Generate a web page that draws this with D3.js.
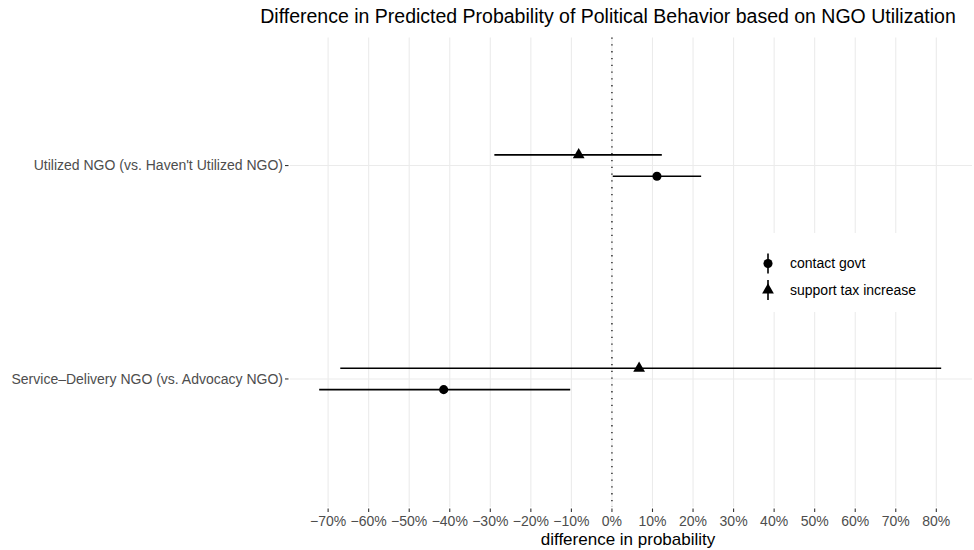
<!DOCTYPE html>
<html>
<head>
<meta charset="utf-8">
<title>Difference in Predicted Probability</title>
<style>
  body { margin: 0; background: #fff; }
  svg text { font-family: "Liberation Sans", Arial, sans-serif; }
  .grid line { stroke: #ebebeb; stroke-width: 1.1px; }
  .tick-label { fill: #4d4d4d; font-size: 14px; }
</style>
</head>
<body>
<div id="chart"></div>
<script src="https://d3js.org/d3.v7.min.js"></script>
<script>
// terms on the y axis, top to bottom
const terms = ["Utilized NGO (vs. Haven't Utilized NGO)", "Service\u2013Delivery NGO (vs. Advocacy NGO)"];
const outcomes = ["contact govt", "support tax increase"];
// estimates and intervals in %, one entry per term
const contactEst = [11.1, -41.5];
const contactLo  = [0.2, -72.2];
const contactHi  = [22.0, -10.3];
const taxEst = [-8.2, 6.7];
const taxLo  = [-29.0, -67.0];
const taxHi  = [12.3, 81.2];
const xTicks = [-70, -60, -50, -40, -30, -20, -10, 0, 10, 20, 30, 40, 50, 60, 70, 80];

const width = 974, height = 550;
const panel = { left: 290, right: 972, top: 37.5, bottom: 507 };

const rows = [];
terms.forEach((t, i) => {
  rows.push({ term: t, outcome: outcomes[0], est: contactEst[i], lo: contactLo[i], hi: contactHi[i] });
  rows.push({ term: t, outcome: outcomes[1], est: taxEst[i], lo: taxLo[i], hi: taxHi[i] });
});

const svg = d3.select("#chart").append("svg")
  .attr("width", width).attr("height", height);

const x = d3.scaleLinear().domain([-79.4, 88.8]).range([panel.left, panel.right]);
// discrete axis with ggplot's 0.6 expansion: positions 1..n
const yPos = d3.scaleLinear().domain([2.6, 0.4]).range([panel.top, panel.bottom]);
const termIndex = t => terms.length - terms.indexOf(t);
// contact govt sits below, support tax increase above
const dodge = d3.scalePoint().domain(outcomes).range([-0.05, 0.05]);

// grid
const grid = svg.append("g").attr("class", "grid");
grid.selectAll(".v").data(xTicks).join("line")
  .attr("x1", d => x(d)).attr("x2", d => x(d))
  .attr("y1", panel.top).attr("y2", panel.bottom);
grid.selectAll(".h").data(terms).join("line")
  .attr("x1", panel.left).attr("x2", panel.right)
  .attr("y1", d => yPos(termIndex(d))).attr("y2", d => yPos(termIndex(d)));

// zero reference
svg.append("line")
  .attr("x1", x(0)).attr("x2", x(0))
  .attr("y1", panel.top).attr("y2", panel.bottom)
  .attr("stroke", "#000").attr("stroke-width", 1.2)
  .attr("stroke-dasharray", "1.3,5.5");

// x axis ticks + labels
const xAxis = svg.append("g");
xAxis.selectAll("line").data(xTicks).join("line")
  .attr("x1", d => x(d)).attr("x2", d => x(d))
  .attr("y1", panel.bottom + 1.5).attr("y2", panel.bottom + 5)
  .attr("stroke", "#333").attr("stroke-width", 1.1);
xAxis.selectAll("text").data(xTicks).join("text")
  .attr("class", "tick-label")
  .attr("x", d => x(d)).attr("y", panel.bottom + 19)
  .attr("text-anchor", "middle")
  .text(d => (d < 0 ? "\u2212" + Math.abs(d) : d) + "%");

// y axis ticks + labels
const yAxis = svg.append("g");
yAxis.selectAll("line").data(terms).join("line")
  .attr("x1", panel.left - 5).attr("x2", panel.left - 1.5)
  .attr("y1", d => yPos(termIndex(d))).attr("y2", d => yPos(termIndex(d)))
  .attr("stroke", "#333").attr("stroke-width", 1.1);
yAxis.selectAll("text").data(terms).join("text")
  .attr("class", "tick-label")
  .attr("x", panel.left - 7).attr("y", d => yPos(termIndex(d)))
  .attr("dy", "0.35em").attr("text-anchor", "end")
  .text(d => d);

// point ranges
const yOf = d => yPos(termIndex(d.term) + dodge(d.outcome));
const marks = svg.append("g");
marks.selectAll("line").data(rows).join("line")
  .attr("x1", d => x(d.lo)).attr("x2", d => x(d.hi))
  .attr("y1", yOf).attr("y2", yOf)
  .attr("stroke", "#000").attr("stroke-width", 1.6);
const shape = o => o === outcomes[0] ? d3.symbolCircle : d3.symbolTriangle;
const size = o => o === outcomes[0] ? 65 : 60;
marks.selectAll("path").data(rows).join("path")
  .attr("transform", d => `translate(${x(d.est)},${yOf(d)})`)
  .attr("d", d => d3.symbol(shape(d.outcome), size(d.outcome))())
  .attr("fill", "#000");

// legend
const lg = svg.append("g").attr("transform", "translate(745,233)");
lg.append("rect").attr("width", 186).attr("height", 79).attr("fill", "#fff");
outcomes.forEach((o, i) => {
  const cy = 30.5 + i * 26.5;
  const g = lg.append("g").attr("transform", `translate(23,${cy})`);
  g.append("line").attr("y1", -10).attr("y2", 10).attr("stroke", "#000").attr("stroke-width", 1.6);
  g.append("path").attr("d", d3.symbol(shape(o), size(o))()).attr("fill", "#000");
  lg.append("text").attr("x", 45).attr("y", cy).attr("dy", "0.35em")
    .attr("font-size", "14px").attr("fill", "#000").text(o);
});

// titles
svg.append("text")
  .attr("x", 608).attr("y", 23).attr("text-anchor", "middle")
  .attr("font-size", "19.5px").attr("fill", "#000")
  .text("Difference in Predicted Probability of Political Behavior based on NGO Utilization");
svg.append("text")
  .attr("x", 628).attr("y", 545)
  .attr("text-anchor", "middle").attr("font-size", "17px").attr("fill", "#000")
  .text("difference in probability");
</script>
</body>
</html>
